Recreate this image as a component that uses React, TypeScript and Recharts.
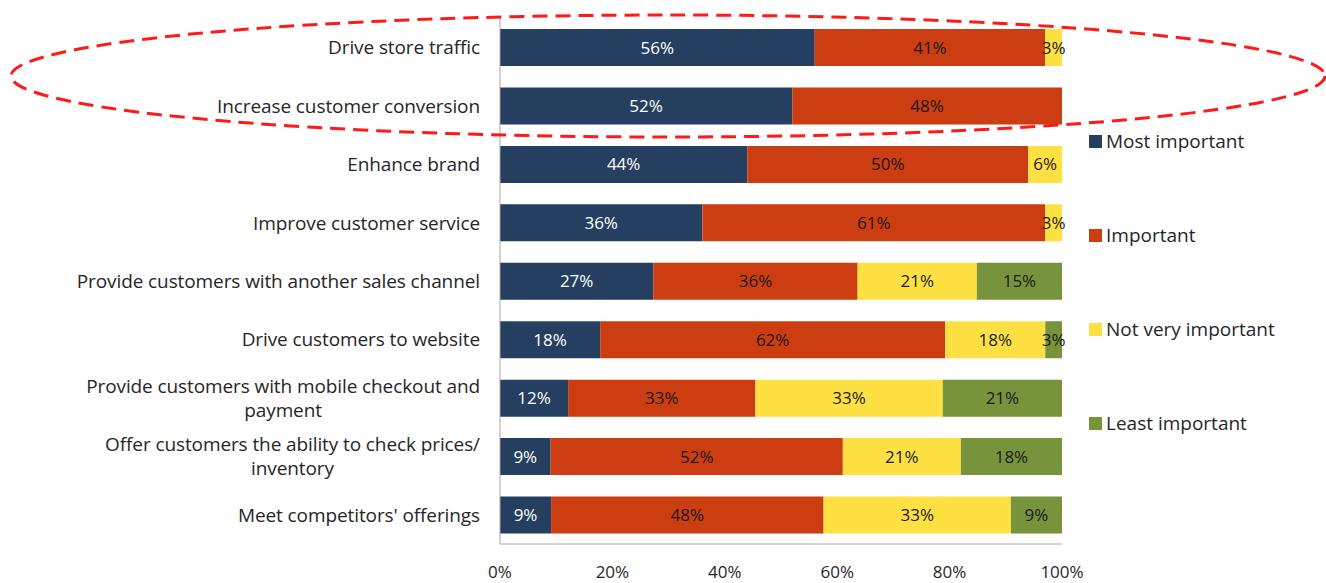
import React from 'react';
import { BarChart, Bar, XAxis, YAxis, LabelList } from 'recharts';

const categories = [
  'Drive store traffic',
  'Increase customer conversion',
  'Enhance brand',
  'Improve customer service',
  'Provide customers with another sales channel',
  'Drive customers to website',
  'Provide customers with mobile checkout and\npayment',
  'Offer customers the ability to check prices/\ninventory',
  "Meet competitors' offerings",
];
const mostImportant = [56, 52, 44, 36, 27, 18, 12, 9, 9];
const important = [41, 48, 50, 61, 36, 62, 33, 52, 48];
const notVeryImportant = [3, 0, 6, 3, 21, 18, 33, 21, 33];
const leastImportant = [0, 0, 0, 0, 15, 3, 21, 18, 9];
const xTicks = [0, 0.2, 0.4, 0.6, 0.8, 1];

const FONT = '"Open Sans", Lato, sans-serif';

const series = [
  { key: 'most', name: 'Most important', color: '#243f60', text: '#ffffff' },
  { key: 'important', name: 'Important', color: '#cc3d11', text: '#1a1a1a' },
  { key: 'notVery', name: 'Not very important', color: '#ffe043', text: '#1a1a1a' },
  { key: 'least', name: 'Least important', color: '#77933c', text: '#1a1a1a' },
];

const data = categories.map((name, i) => ({
  name,
  most: mostImportant[i],
  important: important[i],
  notVery: notVeryImportant[i],
  least: leastImportant[i],
}));

const CategoryTick = (props: any) => {
  const { x, y, payload } = props;
  return (
    <foreignObject x={x - 500} y={y - 30} width={480} height={60}>
      <div style={{ height: 60, display: 'flex', alignItems: 'center', justifyContent: 'flex-end' }}>
        <div style={{
          textAlign: 'center', whiteSpace: 'pre-line', lineHeight: '24px',
          fontFamily: FONT, fontSize: 19, color: '#262626', letterSpacing: -0.1,
        }}>
          {payload.value}
        </div>
      </div>
    </foreignObject>
  );
};

export default function App() {
  return (
    <div style={{ position: 'absolute', left: 0, top: 0, width: 1326, height: 583, background: '#fff' }}>
      <BarChart
        width={1326}
        height={583}
        data={data}
        layout="vertical"
        stackOffset="expand"
        barSize={37}
        margin={{ top: 18, right: 264, bottom: 1, left: 0 }}
      >
        <XAxis
          type="number"
          domain={[0, 1]}
          ticks={xTicks}
          tickFormatter={(v: number) => Math.round(v * 100) + '%'}
          height={38}
          axisLine={{ stroke: '#a6a6a6' }}
          tickLine={false}
          tickSize={0}
          tickMargin={22}
          tick={{ fontFamily: FONT, fontSize: 17, fill: '#262626' }}
          interval={0}
        />
        <YAxis
          type="category"
          dataKey="name"
          width={500}
          axisLine={{ stroke: '#a6a6a6' }}
          tickLine={false}
          tickSize={0}
          tickMargin={0}
          tick={<CategoryTick />}
          interval={0}
        />
        {series.map(s => (
          <Bar key={s.key} dataKey={s.key} name={s.name} stackId="a" fill={s.color} isAnimationActive={false}>
            <LabelList
              dataKey={s.key}
              position="center"
              fill={s.text}
              style={{ fontFamily: FONT, fontSize: 17 }}
              formatter={(v: any) => (v ? v + '%' : '')}
            />
          </Bar>
        ))}
      </BarChart>

      <div style={{ position: 'absolute', left: 1089, top: 129, fontFamily: FONT, fontSize: 19, color: '#262626' }}>
        {series.map((s, i) => (
          <div key={s.key} style={{ display: 'flex', alignItems: 'center', height: 24, marginBottom: i < 3 ? 70 : 0 }}>
            <span style={{ width: 13, height: 13, background: s.color, display: 'inline-block', marginRight: 4 }} />
            <span>{s.name}</span>
          </div>
        ))}
      </div>

      <svg width={1326} height={583} style={{ position: 'absolute', left: 0, top: 0, pointerEvents: 'none' }}>
        <ellipse cx={668} cy={76} rx={657} ry={61} fill="none" stroke="#ff1a1a" strokeWidth={3} strokeDasharray="15 8" />
      </svg>
    </div>
  );
}
